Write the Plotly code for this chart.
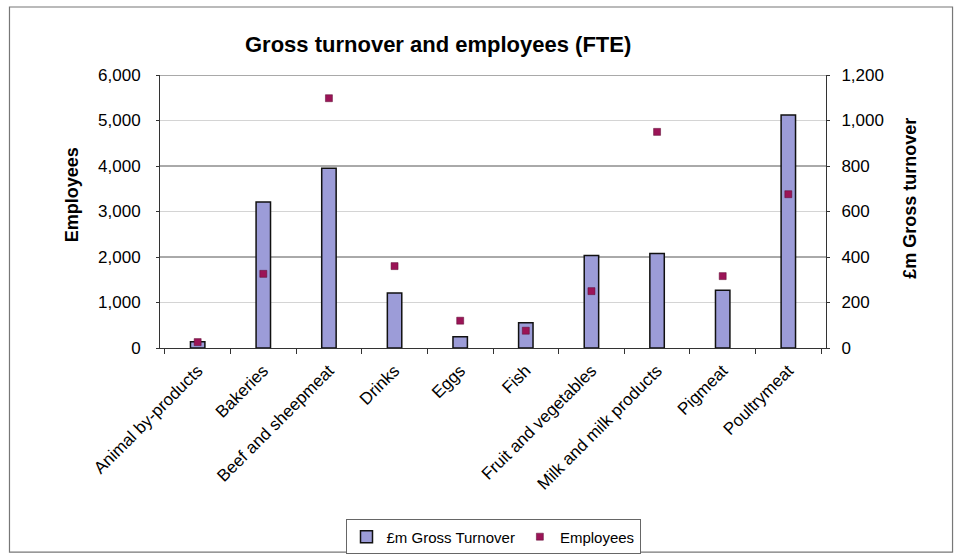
import plotly.graph_objects as go

categories = ["Animal by-products", "Bakeries", "Beef and sheepmeat", "Drinks", "Eggs",
              "Fish", "Fruit and vegetables", "Milk and milk products", "Pigmeat", "Poultrymeat"]
turnover_gbp_m = [28, 642, 790, 242, 50, 111, 407, 415, 254, 1024]
employees = [130, 1630, 5490, 1800, 600, 380, 1250, 4750, 1580, 3380]

left_ticks = [0, 1000, 2000, 3000, 4000, 5000, 6000]
left_tick_text = ["0", "1,000", "2,000", "3,000", "4,000", "5,000", "6,000"]
right_ticks = [0, 200, 400, 600, 800, 1000, 1200]
right_tick_text = ["0", "200", "400", "600", "800", "1,000", "1,200"]
dark_grid = [2000, 4000, 6000]
light_grid = [1000, 3000, 5000]

FONT = "Liberation Sans, Arial, sans-serif"

fig = go.Figure()
fig.add_trace(go.Bar(
    x=categories, y=turnover_gbp_m, name="£m Gross Turnover", yaxis="y",
    marker=dict(color="#9c9cd8", line=dict(color="#111111", width=1.5)),
    width=0.22,
))
fig.add_trace(go.Scatter(
    x=categories, y=employees, name="Employees", mode="markers", yaxis="y2",
    marker=dict(symbol="square", size=7, color="#9b1457", line=dict(color="#5a0a30", width=0.5)),
))

shapes = []
for v in light_grid:
    shapes.append(dict(type="line", xref="paper", x0=0, x1=1, yref="y2", y0=v, y1=v,
                       line=dict(color="#d4d4d4", width=1), layer="below"))
for v in dark_grid:
    shapes.append(dict(type="line", xref="paper", x0=0, x1=1, yref="y2", y0=v, y1=v,
                       line=dict(color="#555555", width=1), layer="below"))
# outer chart frame
shapes.append(dict(type="rect", xref="paper", yref="paper", x0=-0.226, x1=1.190, y0=-0.748, y1=1.249,
                   line=dict(color="#777777", width=1.2)))

annotations = [
    dict(text="<b>Gross turnover and employees (FTE)</b>", xref="paper", yref="paper",
         x=0.418, y=1.11, xanchor="center", yanchor="middle", showarrow=False,
         font=dict(family=FONT, size=22, color="#000000")),
    dict(text="<b>Employees</b>", xref="paper", yref="paper", x=-0.132, y=0.56, textangle=-90,
         xanchor="center", yanchor="middle", showarrow=False,
         font=dict(family=FONT, size=18, color="#000000")),
    dict(text="<b>£m Gross turnover</b>", xref="paper", yref="paper", x=1.126, y=0.55, textangle=-90,
         xanchor="center", yanchor="middle", showarrow=False,
         font=dict(family=FONT, size=18, color="#000000")),
]

fig.update_layout(
    width=959, height=557,
    margin=dict(l=160, r=133, t=75, b=209, autoexpand=False),
    paper_bgcolor="white", plot_bgcolor="white",
    font=dict(family=FONT, size=15, color="#000000"),
    showlegend=True,
    legend=dict(orientation="h", x=0.50, y=-0.692, xanchor="center", yanchor="middle",
                bordercolor="#666666", borderwidth=1, font=dict(family=FONT, size=15),
                itemwidth=30, bgcolor="white"),
    xaxis=dict(showline=True, linecolor="#333333", linewidth=1, tickangle=-45,
               ticks="outside", tickson="boundaries", ticklen=5, tickcolor="#333333",
               ticklabelstandoff=5,
               showgrid=False, tickfont=dict(family=FONT, size=17), automargin=False),
    yaxis=dict(range=[0, 1200], tickvals=right_ticks, ticktext=right_tick_text,
               side="right", showgrid=False, showline=True, linecolor="#333333", linewidth=1,
               ticks="outside", ticklen=3, tickcolor="#333333", zeroline=False,
               ticklabelstandoff=8, automargin=False,
               tickfont=dict(family=FONT, size=17)),
    yaxis2=dict(range=[0, 6000], tickvals=left_ticks, ticktext=left_tick_text, showgrid=False,
                overlaying="y", side="left",
                showline=True, linecolor="#333333", linewidth=1, ticks="outside", ticklen=3,
                tickcolor="#333333", zeroline=False, ticklabelstandoff=12, automargin=False,
                tickfont=dict(family=FONT, size=17)),
    shapes=shapes, annotations=annotations,
)

fig.write_html("out.html", config={"displayModeBar": False},
               post_script="document.body.style.margin='0';")
